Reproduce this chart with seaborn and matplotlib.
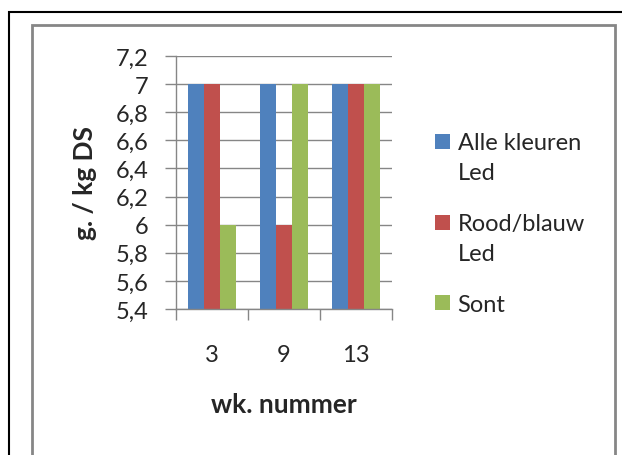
import matplotlib
matplotlib.use("Agg")
import matplotlib.pyplot as plt
import seaborn as sns
import pandas as pd
from matplotlib.patches import Rectangle
from matplotlib.legend_handler import HandlerPatch

# ---- data ----
weeks = ["3", "9", "13"]
series = ["Alle kleuren\nLed", "Rood/blauw\nLed", "Sont"]
alle_kleuren = [7, 7, 7]
rood_blauw = [7, 6, 7]
sont = [6, 7, 7]
yticks = [5.4, 5.6, 5.8, 6.0, 6.2, 6.4, 6.6, 6.8, 7.0, 7.2]
ytick_labels = ["5,4", "5,6", "5,8", "6", "6,2", "6,4", "6,6", "6,8", "7", "7,2"]
colors = ["#4F81BD", "#C0504D", "#9BBB59"]

rows = []
for s, vals in zip(series, [alle_kleuren, rood_blauw, sont]):
    for w, v in zip(weeks, vals):
        rows.append({"week": w, "value": v, "serie": s})
df = pd.DataFrame(rows)

sns.set_theme(style="white")
plt.rcParams["font.family"] = ["Lato", "DejaVu Sans"]
FS = 17
LFS = 19
GRAY = "#868686"

W, H = 622, 456
fig = plt.figure(figsize=(W / 100, H / 100), dpi=100)
fig.patch.set_facecolor("white")
ax = fig.add_axes([176 / W, 1 - 310 / H, (392 - 176) / W, (310 - 57) / H])

sns.barplot(data=df, x="week", y="value", hue="serie", order=weeks,
            hue_order=series, palette=colors, width=0.66, saturation=1,
            linewidth=0, ax=ax)

ax.set_ylim(5.4, 7.2)
ax.set_xlim(-0.5, 2.5)
ax.set_yticks(yticks, ytick_labels)
ax.yaxis.grid(True, color=GRAY, lw=1)
ax.set_axisbelow(True)
ax.tick_params(axis="y", left=True, length=8, width=1, color=GRAY, pad=12,
               labelsize=FS, direction="out")
ax.set_xticks(range(len(weeks)), weeks)
ax.tick_params(axis="x", which="major", length=0, pad=25, labelsize=FS)
ax.set_xticks([-0.5, 0.5, 1.5, 2.5], minor=True)
ax.tick_params(axis="x", which="minor", bottom=True, length=8, width=1,
               color=GRAY, direction="out")
for side in ["top", "right"]:
    ax.spines[side].set_visible(False)
for side in ["left", "bottom"]:
    ax.spines[side].set_color(GRAY)
    ax.spines[side].set_linewidth(1)

ax.set_xlabel("wk. nummer", fontsize=LFS, fontweight="bold", va="center")
ax.xaxis.set_label_coords(0.5, (310 - 405) / (310 - 57))
ax.set_ylabel("g. / kg DS", fontsize=LFS, fontweight="bold", va="center")
ax.yaxis.set_label_coords((85 - 176) / (392 - 176), 0.5)

handles, _ = ax.get_legend_handles_labels()
if ax.get_legend() is not None:
    ax.get_legend().remove()


def up_patch(legend, orig_handle, xdescent, ydescent, width, height, fontsize):
    return Rectangle((-xdescent, -ydescent + 11.6), width, height)


hmap = {handles[0]: HandlerPatch(patch_func=up_patch),
        handles[1]: HandlerPatch(patch_func=up_patch)}
leg = fig.legend(handles, series, loc="upper left",
                 bbox_to_anchor=(435 / W, 1 - 133 / H), frameon=False,
                 fontsize=FS, borderpad=0, borderaxespad=0,
                 handlelength=0.62, handleheight=0.6, handletextpad=0.34,
                 labelspacing=1.25, handler_map=hmap)
for t in leg.get_texts():
    t.set_linespacing(1.55)

# borders
fig.add_artist(Rectangle((9 / W, -0.1), 1.2, 1 - 13 / H + 0.1,
                         transform=fig.transFigure, fill=False,
                         ec="black", lw=1.5))
fig.add_artist(Rectangle((32 / W, -0.1), (615 - 32) / W, 1 - 26 / H + 0.1,
                         transform=fig.transFigure, fill=False,
                         ec=GRAY, lw=2))

fig.savefig("out.png", dpi=100)
